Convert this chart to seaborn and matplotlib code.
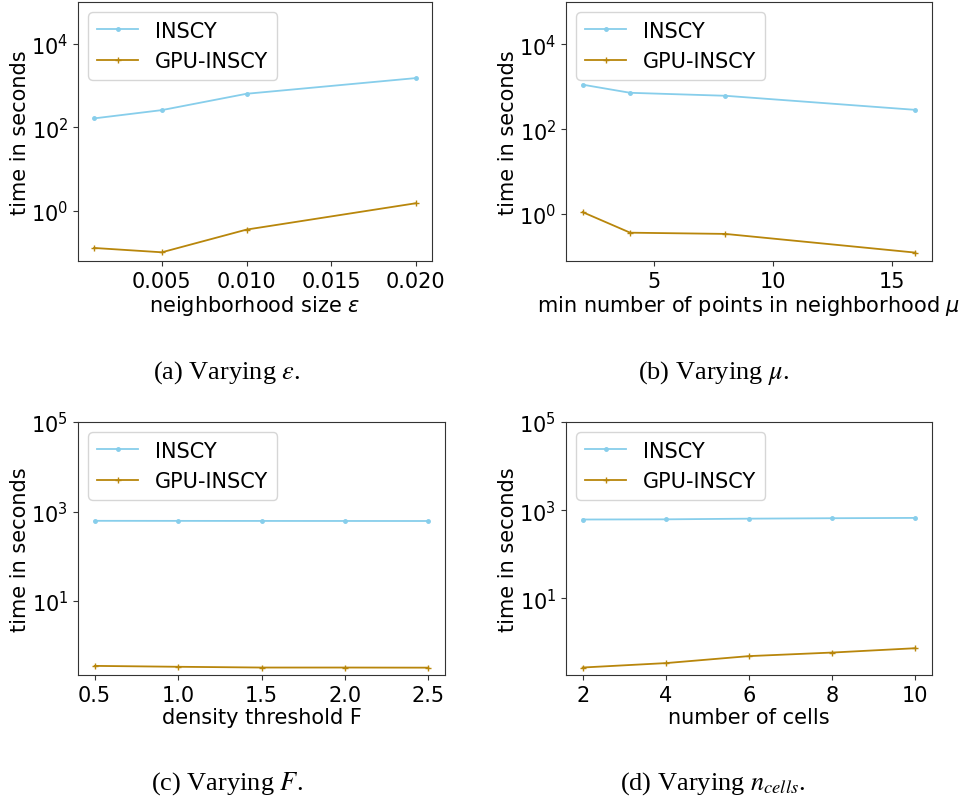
import matplotlib
matplotlib.use("Agg")
import matplotlib.pyplot as plt
import matplotlib.ticker as mticker
import seaborn as sns
import pandas as pd

# ---- data ----
eps_x = [0.001, 0.005, 0.010, 0.020]
eps_inscy = [162, 256, 631, 1500]
eps_gpu = [0.127, 0.100, 0.35, 1.5]

mu_x = [2, 4, 8, 16]
mu_inscy = [1120, 720, 613, 285]
mu_gpu = [1.1, 0.36, 0.337, 0.122]

f_x = [0.5, 1.0, 1.5, 2.0, 2.5]
f_inscy = [620, 618, 616, 615, 614]
f_gpu = [0.356, 0.340, 0.327, 0.327, 0.325]

c_x = [2, 4, 6, 8, 10]
c_inscy = [614, 620, 642, 657, 668]
c_gpu = [0.27, 0.34, 0.49, 0.59, 0.74]

series_names = ["INSCY", "GPU-INSCY"]
xlabels = ["neighborhood size $\\epsilon$",
           "min number of points in neighborhood $\\mu$",
           "density threshold F",
           "number of cells"]
captions = ["(a) Varying $\\varepsilon$.",
            "(b) Varying $\\mu$.",
            "(c) Varying $F$.",
            "(d) Varying $n_{cells}$."]
yticks_sets = [[1e0, 1e2, 1e4], [1e0, 1e2, 1e4], [1e1, 1e3, 1e5], [1e1, 1e3, 1e5]]
xticks_sets = [[0.005, 0.010, 0.015, 0.020], [5, 10, 15], f_x, c_x]
xtick_labels = [["0.005", "0.010", "0.015", "0.020"], ["5", "10", "15"],
                ["0.5", "1.0", "1.5", "2.0", "2.5"], ["2", "4", "6", "8", "10"]]

panels = [(eps_x, eps_inscy, eps_gpu), (mu_x, mu_inscy, mu_gpu),
          (f_x, f_inscy, f_gpu), (c_x, c_inscy, c_gpu)]

W, H = 959, 803
# axes boxes in pixels: left, top, right, bottom
boxes = [(78, 3, 432, 262), (566, 3, 932, 262),
         (78, 423, 445, 676), (566, 423, 932, 676)]
caption_pos = [(227, 373), (714, 373), (227, 784), (713, 784)]

colors = {"INSCY": "#87CEEB", "GPU-INSCY": "#B8860B"}
markers = {"INSCY": ".", "GPU-INSCY": "+"}

fig = plt.figure(figsize=(W / 100, H / 100), dpi=100)

for i, (xs, ins, gpu) in enumerate(panels):
    l, t, r, b = boxes[i]
    ax = fig.add_axes([l / W, 1 - b / H, (r - l) / W, (b - t) / H])
    df = pd.DataFrame({
        "x": list(xs) + list(xs),
        "y": list(ins) + list(gpu),
        "method": [series_names[0]] * len(xs) + [series_names[1]] * len(xs),
    })
    for name in series_names:
        sub = df[df["method"] == name]
        sns.lineplot(data=sub, x="x", y="y", ax=ax, color=colors[name],
                     marker=markers[name], markersize=5,
                     markeredgewidth=1.0, linewidth=1.3, label=name,
                     markeredgecolor=colors[name])
    ax.set_yscale("log")
    ax.margins(x=0.05, y=0.05)
    lo = ax.get_ylim()[0]
    ax.set_ylim(lo, 1e5)
    ax.yaxis.set_major_locator(mticker.FixedLocator(yticks_sets[i]))
    ax.yaxis.set_major_formatter(mticker.LogFormatterSciNotation())
    ax.yaxis.set_minor_locator(mticker.NullLocator())
    ax.set_xticks(xticks_sets[i])
    ax.set_xticklabels(xtick_labels[i])
    ax.tick_params(labelsize=15, color="#333333")
    for s in ax.spines.values():
        s.set_color("#333333")
    ax.set_xlabel(xlabels[i], fontsize=15, labelpad=2)
    ax.set_ylabel("time in seconds", fontsize=15, labelpad=1)
    ax.legend(loc="upper left", fontsize=15, borderaxespad=0.5)

for i, (cx, cy) in enumerate(caption_pos):
    fig.text(cx / W, 1 - cy / H, captions[i], ha="center", va="center",
             fontsize=19, family="Liberation Serif", math_fontfamily="stix")

fig.savefig("out.png", dpi=100)
